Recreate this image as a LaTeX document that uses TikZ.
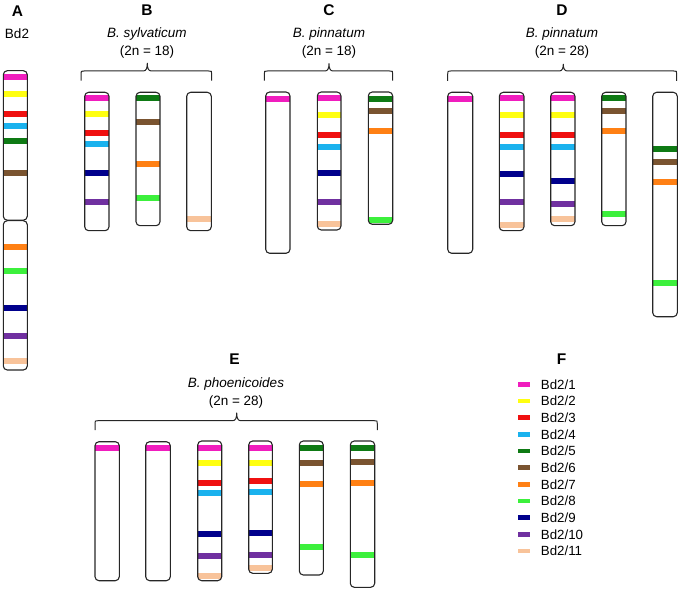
\documentclass[tikz,border=0pt]{standalone}
\usepackage{fontspec}
\setmainfont{Liberation Sans}
\definecolor{cMag}{HTML}{F01DBE}
\definecolor{cYel}{HTML}{FFFF10}
\definecolor{cRed}{HTML}{F01010}
\definecolor{cCya}{HTML}{1AB2EE}
\definecolor{cGrn}{HTML}{0E7A14}
\definecolor{cBrn}{HTML}{7A5430}
\definecolor{cOra}{HTML}{FF8014}
\definecolor{cLgr}{HTML}{3CF03C}
\definecolor{cNav}{HTML}{00008C}
\definecolor{cPur}{HTML}{7030A0}
\definecolor{cPea}{HTML}{F8C39A}
\newcommand{\chromo}[5]{%
  \begin{scope}
    \clip[rounded corners=4pt] (#1,#3) rectangle (#2,#4);
    \foreach \cc/\yy in {#5} { \fill[\cc] (#1,\yy-3) rectangle (#2,\yy+3); }
  \end{scope}
  \draw[chrom] (#1,#3) rectangle (#2,#4);
}
\newcommand{\bracepath}[6]{% x1, x2, xm, ytop, ybottom, ytip
  \draw[bracestyle] (#1,#5) -- (#1,#4+3) .. controls (#1,#4) .. (#1+3,#4)
    -- (#3-4,#4) .. controls (#3-1,#4) and (#3,#4-3) .. (#3,#6)
    .. controls (#3,#4-3) and (#3+1,#4) .. (#3+4,#4)
    -- (#2-3,#4) .. controls (#2,#4) .. (#2,#4+3) -- (#2,#5);
}
\begin{document}
\begin{tikzpicture}[x=1pt,y=-1pt,
  chrom/.style={draw=black!85, line width=1.1pt, rounded corners=4pt},
  bracestyle/.style={draw=black!85, line width=1pt},
  title/.style={font=\fontsize{15.5}{18}\selectfont\bfseries, inner sep=0},
  sp/.style={font=\fontsize{13.5}{16}\selectfont, inner sep=0},
  leg/.style={font=\fontsize{13.3}{16}\selectfont, inner sep=0, anchor=west}]
\useasboundingbox (0,0) rectangle (681,607);

% ---------- A ----------
\node[title] (tA) at (17.5,11) {A};
\node[sp] (bd2) at (17,34) {Bd2};
\chromo{3.3}{27.3}{70.7}{220.2}{cMag/77, cYel/93.7, cRed/114, cCya/126, cGrn/140.7, cBrn/173}
\chromo{3.3}{27.3}{220.7}{370}{cOra/247, cLgr/271, cNav/308, cPur/336, cPea/361}

% ---------- B ----------
\node[title] (tB) at (147,10) {B};
\node[sp] (spB) at (147,34) {\itshape B. sylvaticum};
\node[sp] (nB) at (147,52) {(2n = 18)};
\bracepath{81}{211.7}{147.3}{71}{80.7}{63}
\chromo{84.7}{109}{92.3}{230.7}{cMag/98.3, cYel/114, cRed/133.3, cCya/144.3, cNav/173.3, cPur/201.7}
\chromo{136}{160}{92.3}{225.7}{cGrn/98.3, cBrn/122.3, cOra/164, cLgr/197.7}
\chromo{186.7}{211.3}{92.3}{230.7}{cPea/218.7}

% ---------- C ----------
\node[title] (tC) at (329,10) {C};
\node[sp] (spC) at (329,34) {\itshape B. pinnatum};
\node[sp] (nC) at (329,52) {(2n = 18)};
\bracepath{264.3}{392.7}{329}{71}{80.7}{63.3}
\chromo{265.7}{290}{92}{253.3}{cMag/99}
\chromo{317.3}{341}{92}{230}{cMag/98, cYel/115.3, cRed/134.7, cCya/146.7, cNav/173.3, cPur/201.7, cPea/224.3}
\chromo{368.3}{392.7}{92}{224.3}{cGrn/98.7, cBrn/111.3, cOra/131.3, cLgr/220}

% ---------- D ----------
\node[title] (tD) at (562,10) {D};
\node[sp] (spD) at (562,34) {\itshape B. pinnatum};
\node[sp] (nD) at (562,52) {(2n = 28)};
\bracepath{447.7}{676.7}{563.3}{71}{81}{64}
\chromo{447.7}{472.7}{92.3}{253.3}{cMag/98.7}
\chromo{499.3}{524}{92.3}{230.7}{cMag/97.7, cYel/115, cRed/134.7, cCya/147.3, cNav/173.7, cPur/202, cPea/225}
\chromo{550.7}{575}{92.3}{225.7}{cMag/97.7, cYel/115, cRed/135, cCya/146.7, cNav/180.7, cPur/204, cPea/219.3}
\chromo{601.7}{626}{92.3}{225.7}{cGrn/98, cBrn/111.3, cOra/131.3, cLgr/213.7}
\chromo{652.7}{677.3}{92.3}{316.7}{cGrn/149, cBrn/162.3, cOra/182, cLgr/282.7}

% ---------- E ----------
\node[title] (tE) at (234.5,359) {E};
\node[sp] (spE) at (236,384) {\itshape B. phoenicoides};
\node[sp] (nE) at (236,401.7) {(2n = 28)};
\bracepath{95}{377.3}{236.7}{420.7}{430}{412.7}
\chromo{95}{119.3}{441.7}{580.7}{cMag/447.7}
\chromo{145.7}{170.3}{441.7}{580.7}{cMag/448.3}
\chromo{197.7}{221.7}{441}{580.7}{cMag/447.7, cYel/463.3, cRed/483.3, cCya/492.7, cNav/533.7, cPur/556.3, cPea/576}
\chromo{248.7}{272.3}{441}{573.3}{cMag/447.7, cYel/462.7, cRed/480.7, cCya/492.3, cNav/533, cPur/554.7, cPea/567.7}
\chromo{299.3}{323.3}{441}{575}{cGrn/447.7, cBrn/463, cOra/484, cLgr/546.7}
\chromo{350.3}{374.7}{441}{587.3}{cGrn/447.7, cBrn/462, cOra/482.7, cLgr/555}

% ---------- F ----------
\node[title] (tF) at (561.7,359) {F};
\foreach \cc/\lab [count=\i] in {cMag/Bd2\slash 1, cYel/Bd2\slash 2, cRed/Bd2\slash 3, cCya/Bd2\slash 4, cGrn/Bd2\slash 5, cBrn/Bd2\slash 6, cOra/Bd2\slash 7, cLgr/Bd2\slash 8, cNav/Bd2\slash 9, cPur/Bd2\slash 10, cPea/Bd2\slash 11}{
  \pgfmathsetmacro{\yy}{384.3+16.67*(\i-1)}
  \fill[\cc] (518.3,\yy-2.3) rectangle (530,\yy+2.3);
  \node[leg] (L\i) at (540.7,\yy) {\lab};
}
\end{tikzpicture}
\end{document}
